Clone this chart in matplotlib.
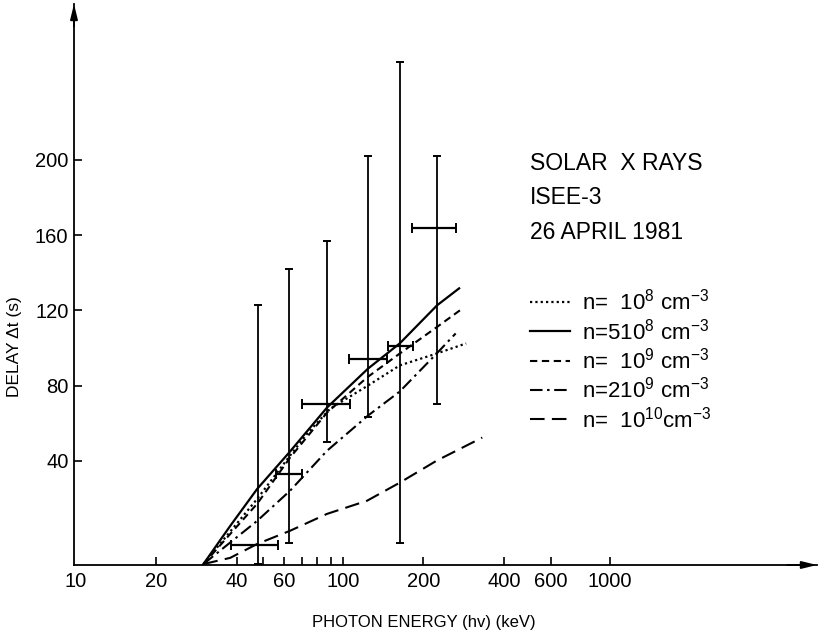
import matplotlib
matplotlib.use("Agg")
import matplotlib.pyplot as plt
import numpy as np

plt.rcParams['font.family'] = ['Liberation Sans', 'DejaVu Sans']
plt.rcParams['mathtext.default'] = 'regular'

# ---------------- data ----------------
# theoretical delay curves: photon energy (keV) -> delay (s)
e_n1e8 = [30, 47.7, 63.3, 73.4, 89.5, 124, 163, 224, 289]
d_n1e8 = [-15, 19.7, 42.7, 54.4, 67.7, 80, 90.7, 97, 102.4]

e_n5e8 = [30, 37.8, 47.7, 62.8, 87.1, 124, 163, 225, 272]
d_n5e8 = [-15, 5.3, 25, 44.3, 68.3, 89, 102.4, 122.7, 131.7]

e_n1e9 = [30, 47.7, 63.3, 87.1, 123, 163, 224, 277]
d_n1e9 = [-15, 17.1, 41.6, 65.6, 84.3, 97, 111, 120.5]

e_n2e9 = [30, 47.7, 63.3, 87.1, 124, 163, 224, 264]
d_n2e9 = [-15, 8.0, 24, 45.3, 64, 76.8, 97, 107.7]

e_n1e10 = [30, 37.8, 47.7, 63.3, 87.1, 123, 163, 224, 332]
d_n1e10 = [-15, -11.7, -4.3, 2.7, 11.7, 18.7, 28.3, 40, 52.3]

# measured delays: vertical error bars
vbar_e = [48, 63, 87, 124, 163, 224]
vbar_top = [123, 142, 157, 202, 252, 202]
vbar_bottom = [-15, -4, 50, 63, -4, 70]

# energy channels: horizontal error bars
hbar_delay = [-5, 33, 70, 94, 101, 164]
hbar_left = [38, 56, 70, 105, 147, 181]
hbar_right = [57, 70, 106, 146, 183, 265]

legend_labels = [
    r"n=  10$^{8}$ cm$^{-3}$",
    r"n=510$^{8}$ cm$^{-3}$",
    r"n=  10$^{9}$ cm$^{-3}$",
    r"n=210$^{9}$ cm$^{-3}$",
    r"n=  10$^{10}$cm$^{-3}$",
]

xtick_vals = [10, 20, 40, 60, 100, 200, 400, 600, 1000]
xtick_labels = ["10", "20", "40", "60", "100", "200", "400", "600", "1000"]
xminor_vals = [50, 70, 80, 90]
ytick_vals = [40, 80, 120, 160, 200]

info_lines = ["SOLAR  X RAYS", "ISEE-3", "26 APRIL 1981"]

# ---------------- figure ----------------
fig = plt.figure(figsize=(8.25, 6.39), dpi=100)
ax = fig.add_axes([74/825, 1-565/639, (817-74)/825, (565-4)/639])
ax.set_xscale('log')
ax.set_xlim(9.83, 5950)
ax.set_ylim(-15.5, 283)

styles = [
    dict(ls=(0, (1, 1.4)), lw=1.6),
    dict(ls='-', lw=1.6),
    dict(ls=(0, (3.5, 2.2)), lw=1.5),
    dict(ls=(0, (6, 2.2, 1.2, 2.2)), lw=1.5),
    dict(ls=(0, (7, 3.5)), lw=1.5),
]
curves = [(e_n1e8, d_n1e8), (e_n5e8, d_n5e8), (e_n1e9, d_n1e9),
          (e_n2e9, d_n2e9), (e_n1e10, d_n1e10)]
for (e, d), st in zip(curves, styles):
    ax.plot(e, d, color='black', **st)

# vertical error bars
vb_top = np.array(vbar_top, float)
vb_bot = np.array(vbar_bottom, float)
vb_mid = (vb_top + vb_bot) / 2
ax.errorbar(vbar_e, vb_mid, yerr=[vb_mid - vb_bot, vb_top - vb_mid],
            fmt='none', ecolor='black', elinewidth=1.3, capsize=3.2, capthick=1.4)

# horizontal error bars
hl = np.array(hbar_left, float)
hr = np.array(hbar_right, float)
hm = np.sqrt(hl * hr)
ax.errorbar(hm, hbar_delay, xerr=[hm - hl, hr - hm],
            fmt='none', ecolor='black', elinewidth=1.6, capsize=3.5, capthick=1.4)

# axes styling
for s in ['top', 'right']:
    ax.spines[s].set_visible(False)
for s in ['left', 'bottom']:
    ax.spines[s].set_linewidth(1.3)
ax.set_xticks(xtick_vals)
ax.set_xticklabels(xtick_labels)
ax.set_xticks(xminor_vals, minor=True)
ax.xaxis.set_minor_formatter(matplotlib.ticker.NullFormatter())
ax.set_yticks(ytick_vals)
ax.tick_params(axis='both', which='both', direction='in', length=6, width=1.2,
               labelsize=14.5)
ax.tick_params(axis='x', pad=5)
ax.tick_params(axis='y', pad=4)
ax.xaxis.get_major_ticks()[0].tick1line.set_visible(False)

# axis arrows
ax.annotate('', xy=(0, 1.0), xytext=(0, 0.96), xycoords='axes fraction',
            arrowprops=dict(arrowstyle='-|>,head_length=0.9,head_width=0.22',
                            color='black', lw=1.3, shrinkA=0, shrinkB=0))
ax.annotate('', xy=(1.0, 0), xytext=(0.96, 0), xycoords='axes fraction',
            arrowprops=dict(arrowstyle='-|>,head_length=0.9,head_width=0.22',
                            color='black', lw=1.3, shrinkA=0, shrinkB=0))

# axis titles
fig.text(424/825, 1-623/639, "PHOTON ENERGY (hv) (keV)", ha='center', va='center',
         fontsize=12)
fig.text(15/825, 1-347/639, "DELAY \u0394t (s)", ha='center', va='center',
         rotation=90, fontsize=12.5)

# annotation
for i, line in enumerate(info_lines):
    fig.text(530/825, 1-(163 + 35*i)/639, line, ha='left', va='center', fontsize=16.5)

# legend drawn manually
for i, (lab, st) in enumerate(zip(legend_labels, styles)):
    y = 1 - (302 + 29.3*i)/639
    fig.add_artist(matplotlib.lines.Line2D([530/825, 570/825], [y, y],
                                           color='black', transform=fig.transFigure,
                                           **st))
    fig.text(582/825, y, lab, ha='left', va='center', fontsize=16)

fig.savefig("out.png", dpi=100)
